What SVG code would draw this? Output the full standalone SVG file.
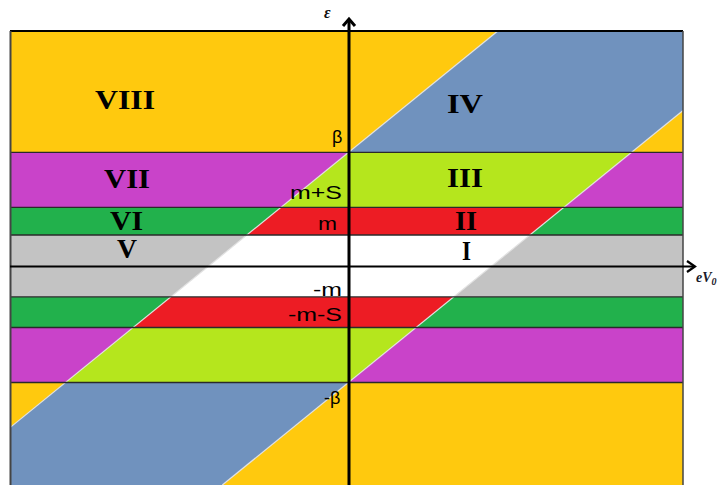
<svg xmlns="http://www.w3.org/2000/svg" width="717" height="485" viewBox="0 0 717 485">
<style>
.roman{font-family:"Liberation Serif","Times New Roman",serif;font-weight:bold;font-size:28px;fill:#000}
.lbl{font-family:"Liberation Sans",Arial,sans-serif;font-size:18px;fill:#000}
.hl{stroke:#2a2a2a;stroke-width:1.3;fill:none}
.diag{stroke:#e2e2e2;stroke-width:1.2;fill:none}
.axis{stroke:#000;fill:none;stroke-linecap:butt}
</style>
<defs>
<clipPath id="frame"><rect x="10" y="31" width="673" height="454"/></clipPath>
<clipPath id="strip"><polygon points="10,427.6 683,-119.5 683,110.5 10,657.6"/></clipPath>
</defs>
<rect width="717" height="485" fill="#fff"/>
<g id="outer-bands" clip-path="url(#frame)">
<rect x="10" y="31" width="673" height="121" fill="#FFC90E"/>
<rect x="10" y="152" width="673" height="55" fill="#C943C9"/>
<rect x="10" y="207" width="673" height="28" fill="#22B14C"/>
<rect x="10" y="235" width="673" height="62" fill="#C3C3C3"/>
<rect x="10" y="297" width="673" height="30" fill="#22B14C"/>
<rect x="10" y="327" width="673" height="55" fill="#C943C9"/>
<rect x="10" y="382" width="673" height="103" fill="#FFC90E"/>
</g>
<g id="inner-strip" clip-path="url(#frame)">
<g clip-path="url(#strip)">
<rect x="10" y="31" width="673" height="121" fill="#7092BE"/>
<rect x="10" y="152" width="673" height="55" fill="#B5E61D"/>
<rect x="10" y="207" width="673" height="28" fill="#ED1C24"/>
<rect x="10" y="235" width="673" height="62" fill="#FFFFFF"/>
<rect x="10" y="297" width="673" height="30" fill="#ED1C24"/>
<rect x="10" y="327" width="673" height="55" fill="#B5E61D"/>
<rect x="10" y="382" width="673" height="103" fill="#7092BE"/>
</g>
</g>
<g id="connectors">
<line class="diag" x1="10" y1="427.6" x2="497.8" y2="31"/>
<line class="diag" x1="222.3" y1="485" x2="683" y2="110.5"/>
<line class="hl" x1="10" y1="152.3" x2="683" y2="152.3"/>
<line class="hl" x1="10" y1="207.3" x2="683" y2="207.3"/>
<line class="hl" x1="10" y1="235" x2="683" y2="235"/>
<line class="hl" x1="10" y1="296.8" x2="683" y2="296.8"/>
<line class="hl" x1="10" y1="327.5" x2="683" y2="327.5"/>
<line class="hl" x1="10" y1="382.5" x2="683" y2="382.5"/>
<line x1="10" y1="31" x2="683" y2="31" stroke="#000" stroke-width="2"/>
<line x1="10.5" y1="31" x2="10.5" y2="485" stroke="#444" stroke-width="2"/>
<line x1="683" y1="31" x2="683" y2="485" stroke="#444" stroke-width="1.5"/>
<line class="axis" x1="10" y1="266.5" x2="694" y2="266.5" stroke-width="2"/>
<polyline class="axis" points="687,261 695,266.5 687,272" stroke-width="2.2"/>
<line class="axis" x1="349" y1="485" x2="349" y2="19" stroke-width="3"/>
<polyline class="axis" points="343,26 349,19 355,26" stroke-width="3"/>
</g>
<g id="axis-labels">
<text x="324" y="18" font-family="Liberation Serif, serif" font-style="italic" font-weight="bold" font-size="16" fill="#111">ε</text>
<text x="696" y="282" font-family="Liberation Serif, serif" font-style="italic" font-weight="bold" font-size="14" fill="#1a1a2a">eV<tspan font-size="10" dy="3">0</tspan></text>
</g>
<g id="region-VIII"><text class="roman" x="95" y="109" textLength="60" lengthAdjust="spacingAndGlyphs">VIII</text></g>
<g id="region-IV"><text class="roman" x="447" y="113" textLength="36" lengthAdjust="spacingAndGlyphs">IV</text></g>
<g id="region-VII"><text class="roman" x="104" y="188" textLength="46" lengthAdjust="spacingAndGlyphs">VII</text></g>
<g id="region-III"><text class="roman" x="447" y="187" textLength="36" lengthAdjust="spacingAndGlyphs">III</text></g>
<g id="region-VI"><text class="roman" x="110" y="230" textLength="33" lengthAdjust="spacingAndGlyphs">VI</text></g>
<g id="region-II"><text class="roman" x="455" y="230" textLength="22" lengthAdjust="spacingAndGlyphs">II</text></g>
<g id="region-V"><text class="roman" x="117" y="258" textLength="20" lengthAdjust="spacingAndGlyphs">V</text></g>
<g id="region-I"><text class="roman" x="462" y="260" textLength="9" lengthAdjust="spacingAndGlyphs">I</text></g>
<g id="level-labels">
<text class="lbl" x="332" y="143">β</text>
<text class="lbl" x="290" y="199" textLength="52" lengthAdjust="spacingAndGlyphs">m+S</text>
<text class="lbl" x="318" y="230" textLength="19" lengthAdjust="spacingAndGlyphs">m</text>
<text class="lbl" x="313" y="296" textLength="29" lengthAdjust="spacingAndGlyphs">-m</text>
<text class="lbl" x="288" y="321" textLength="54" lengthAdjust="spacingAndGlyphs">-m-S</text>
<text class="lbl" x="324" y="404">-β</text>
</g>
</svg>
